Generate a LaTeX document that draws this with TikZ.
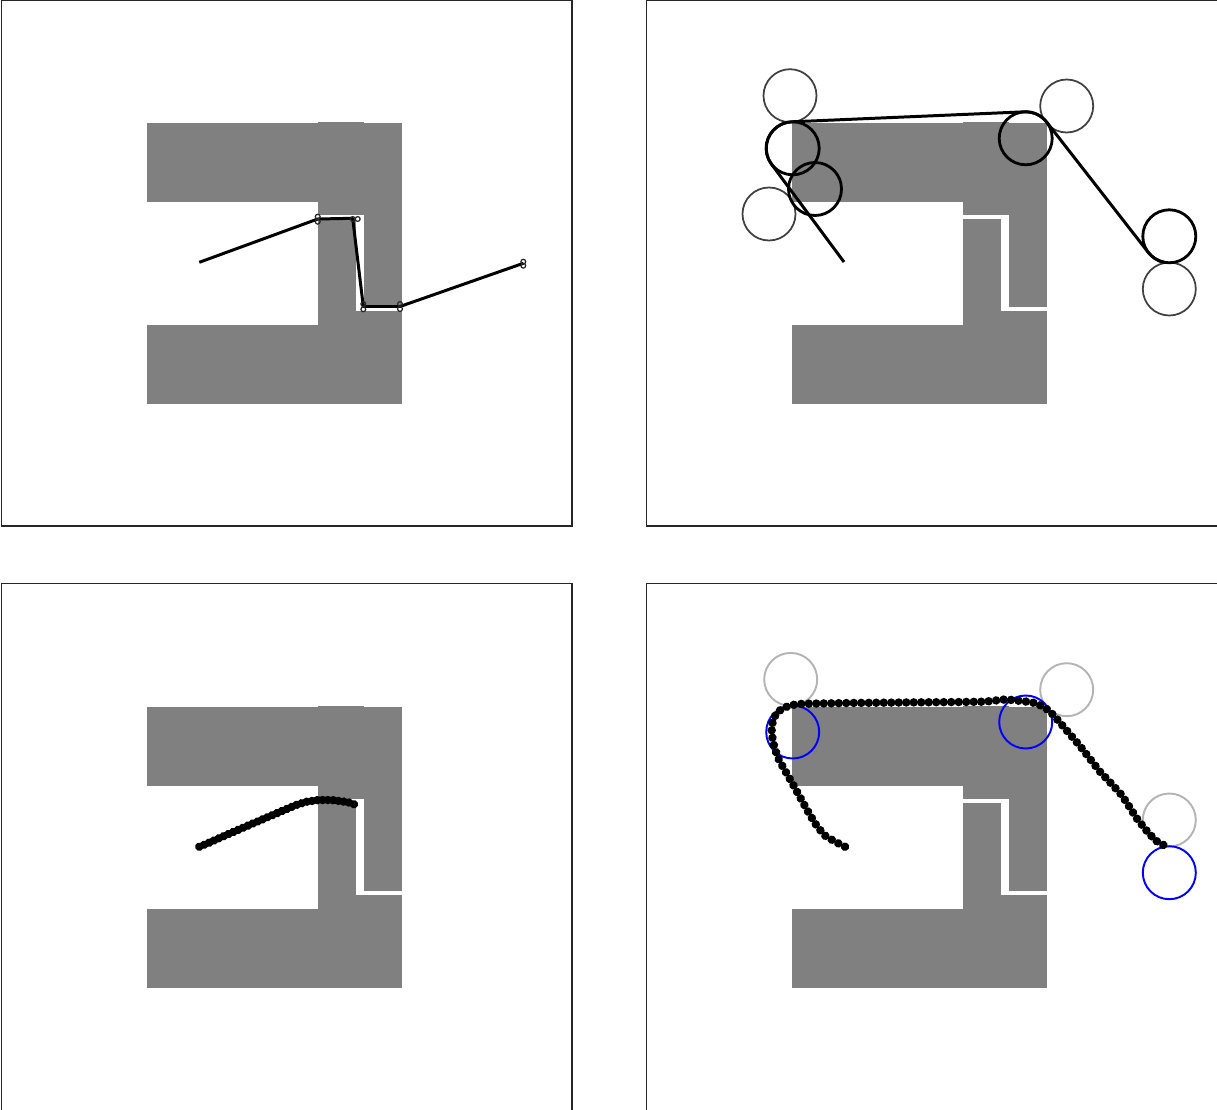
\documentclass[tikz,border=0pt]{standalone}
\usetikzlibrary{calc, decorations.markings}

\definecolor{obst}{RGB}{128,128,128}
\definecolor{ghost}{RGB}{64,64,64}
\definecolor{pale}{RGB}{180,180,180}
\definecolor{goalblue}{RGB}{0,0,255}

\tikzset{
  frame/.style={draw=black!85, line width=0.6pt},
  route/.style={draw=black, line width=1.7pt, line join=round},
  wpt/.style={draw=black!85, line width=0.7pt},
  ring/.style={draw=black, line width=1.6pt},
  ghostring/.style={draw=ghost, line width=1.0pt},
  palering/.style={draw=pale, line width=1.1pt},
  bluering/.style={draw=goalblue, line width=1.1pt},
  beads/.style={postaction={decorate}, decoration={markings,
      mark=between positions 0 and 1 step #1 with {\fill[black] (0,0) circle (0.085cm);}}}
}

% block with the slot, shifted by (#1,#2)
\newcommand{\slotblock}[2]{%
  \begin{scope}[shift={(#1,#2)}]
    \fill[obst] (147,123) rectangle (402,202);
    \fill[obst] (318,123) rectangle (402,404);
    \fill[obst] (318,121.8) rectangle (364,123);
    \fill[obst] (147,325) rectangle (402,404);
    \fill[white] (318,215) rectangle (364,219);
    \fill[white] (356,215) rectangle (364,311);
    \fill[white] (356,307) rectangle (402,311);
  \end{scope}}

\begin{document}
\begin{tikzpicture}[x=0.02cm, y=-0.02cm]
\useasboundingbox (0,0) rectangle (1217,1109);

% frames
\draw[frame] (1.5,0.5) rectangle (572,526);
\draw[frame] (646.5,0.5) rectangle (1219,526);
\draw[frame] (1.5,583.5) rectangle (572,1111);
\draw[frame] (646.5,583.5) rectangle (1219,1111);

% obstacles
\slotblock{0}{0}
\slotblock{645}{0}
\slotblock{0}{583.7}
\slotblock{645}{583.7}

% top left: waypoint path
\draw[route] (199.3,262.3) -- (317.7,219) -- (352.7,218.3) -- (363.3,306.5)
  -- (400,306.5) -- (523.3,263.3);
\foreach \wx/\wy in {317.7/216.7, 317.7/221.7, 352.7/219, 357.7/219,
    363.3/304, 363.3/309.3, 400/304, 400/309, 523.3/261.7, 523.3/265.7}
  \draw[wpt] (\wx,\wy) circle (2.4);

% top right: circles and tangent path
\coordinate (cA) at (792.7,148.3);
\coordinate (cB) at (815,189);
\coordinate (cD) at (1025.7,138.3);
\coordinate (cE) at (1169.3,236.3);
\foreach \gx/\gy in {790/95.7, 769/214, 1066.7/106, 1169.3/289}
  \draw[ghostring] (\gx,\gy) circle (26.5);
\foreach \c in {cA, cB, cD, cE}
  \draw[ring] (\c) circle (26.5);
\draw[route] (844,262) -- ($(cA)+(143.4:26.5)$)
  arc[start angle=143.4, end angle=267.5, radius=26.5]
  -- ($(cD)+(267.5:26.5)$)
  arc[start angle=267.5, end angle=322, radius=26.5]
  -- ($(cE)+(142:26.5)$)
  arc[start angle=142, end angle=100, radius=26.5];

% bottom left: sampled trajectory
\path[beads=0.106cm] (199.3,846.7) -- (209,842.7) -- (224,836) -- (249.3,825)
  -- (275,814) -- (296,805) -- (306.7,801.7) -- (318.3,800) -- (331.7,800)
  -- (344.3,801.7) -- (350,802.7) -- (355.7,805);

% bottom right: circles and sampled trajectory
\foreach \gx/\gy in {790.7/679.4, 1066.7/689.7, 1169.3/820}
  \draw[palering] (\gx,\gy) circle (26.5);
\foreach \bx/\by in {792.7/732, 1025.7/722, 1169.3/872.7}
  \draw[bluering] (\bx,\by) circle (26.5);
\path[beads=0.15cm] (845,846.7) -- (835,841.7) -- (824,835) -- (815,823.3)
  -- (807.7,811) -- (800.3,797.7) -- (793.3,785) -- (786,772.3) -- (779,760)
  -- (774.3,747.3) -- (771.7,734) -- (771.7,728) -- (772.7,721.7) -- (775,716)
  -- (779,711) -- (784,707.7) -- (790.7,705.3) -- (798.3,704) -- (806.7,703.7)
  -- (850,703) -- (900,702.5) -- (960,702) -- (983.3,701.7) -- (991.7,701)
  -- (999.3,700) -- (1006.7,699.3) -- (1014,700.3) -- (1021.7,701)
  -- (1029.3,702) -- (1036.7,703.3) -- (1042.7,706.7) -- (1048.3,710)
  -- (1053.3,715) -- (1058.3,720.7) -- (1080,746) -- (1100,771.7)
  -- (1111,783.3) -- (1121.7,795) -- (1129.3,806.7) -- (1136.7,818.3)
  -- (1146,830) -- (1155,840) -- (1160,843.3) -- (1165,845.7) -- (1169.3,846.7);
\end{tikzpicture}
\end{document}
